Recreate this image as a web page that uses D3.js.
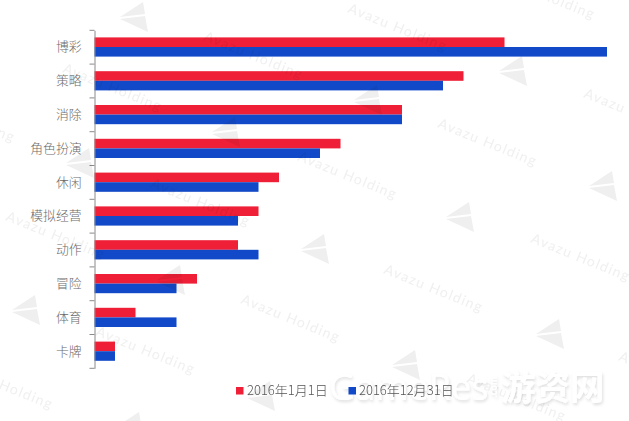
<!DOCTYPE html>
<html><head><meta charset="utf-8">
<script src="https://cdn.jsdelivr.net/npm/d3@7"></script>
<style>html,body{margin:0;padding:0;background:#fff}svg{display:block}text{font-family:"Noto Sans CJK SC","Noto Sans",sans-serif}</style>
</head><body><svg id="c" width="629" height="421"></svg>
<script>
const categories = ["博彩","策略","消除","角色扮演","休闲","模拟经营","动作","冒险","体育","卡牌"];
const seriesNames = ["2016年1月1日","2016年12月31日"];
const janValues = [20,18,15,12,9,8,7,5,2,1];
const decValues = [25,17,15,11,8,7,8,4,4,1];
const seriesColors = ["#ee1f36","#1249c8"];
const watermarkStarts = [[347,12],[203,40],[62,72],[-85,103],[-100,20],[495,-20],[583,97],[437,127],[297,160],[150,187],[5,220],[240,303],[95,335],[-47,370],[383,273],[530,242],[618,360],[466,382]];
const planeCenters = [[135,18],[227,133],[81,164],[316,250],[172,281],[27,311],[262,397],[131,428],[514,72],[369,101],[604,187],[461,218],[551,335],[407,366]];

const svg = d3.select("#c");
const x = d3.scaleLinear().domain([0,25]).range([94.5,607]);
const y = d3.scaleBand().domain(categories).range([30.3,368.3]).paddingInner(0).paddingOuter(0);
const barH = 9.6;

const barsG = svg.append("g");
[janValues,decValues].forEach((vals,s)=>{
  barsG.append("g").selectAll("rect").data(vals).join("rect")
    .attr("x",x(0)).attr("width",d=>x(d)-x(0))
    .attr("y",(d,i)=>y(categories[i])+y.bandwidth()/2-barH+s*barH-0.2)
    .attr("height",barH).attr("fill",seriesColors[s]);
});

const axis = svg.append("g").attr("transform","translate(94.5,0)")
  .call(d3.axisLeft(y).tickSize(0).tickPadding(13));
axis.select(".domain").attr("stroke","#8a8a8a").attr("stroke-width",1);
axis.selectAll("text").attr("font-size",12.8).attr("fill","#6a6a6a").attr("font-weight",300);
axis.selectAll("line.edge").data(categories.map(c=>y(c)).concat([y.range()[1]])).join("line")
  .attr("class","edge").attr("x1",-5).attr("x2",0).attr("y1",d=>d).attr("y2",d=>d)
  .attr("stroke","#8a8a8a");

// background watermark overlay
const wm = svg.append("g").style("mix-blend-mode","multiply");
wm.selectAll("text").data(watermarkStarts).join("text")
  .attr("transform",d=>`translate(${d[0]},${d[1]}) rotate(22)`)
  .attr("font-size",14).attr("letter-spacing",1.3).attr("fill","#f0f0f0")
  .style("font-family","Lato,'Open Sans',sans-serif").text("Avazu Holding");
const planes = wm.selectAll("g.p").data(planeCenters).join("g").attr("class","p")
  .attr("transform",d=>`translate(${d[0]},${d[1]})`);
planes.append("path").attr("d","M-15,-1L8,-16L10,-4Z").attr("fill","#efefef");
planes.append("path").attr("d","M-15,1L10,-2L13,14Z").attr("fill","#efefef");

// site watermark
const defs = svg.append("defs");
const f = defs.append("filter").attr("id","sh").attr("x","-10%").attr("y","-20%").attr("width","120%").attr("height","150%");
f.append("feDropShadow").attr("dx",1).attr("dy",2).attr("stdDeviation",1.5).attr("flood-color","#000").attr("flood-opacity",0.13);
const site = svg.append("g").attr("filter","url(#sh)").attr("fill","#fff");
site.append("text").attr("x",329).attr("y",400).attr("font-size",36).style("font-family","'Open Sans',sans-serif").text("GameRes");
site.append("text").attr("transform","translate(497,398) rotate(-90)").attr("font-size",9).attr("font-weight",700).text(".com");
site.append("text").attr("x",501).attr("y",400).attr("font-size",34.5).attr("font-weight",700).text("游资网");

// legend
const legendX = [236,348.5], legendTextX=[247,359];
seriesNames.forEach((n,i)=>{
  svg.append("rect").attr("x",legendX[i]).attr("y",387).attr("width",7.5).attr("height",7.5).attr("fill",seriesColors[i]);
  svg.append("text").attr("x",legendTextX[i]).attr("y",395).attr("font-size",13).attr("fill","#555").attr("font-weight",300).text(n);
});
</script></body></html>
